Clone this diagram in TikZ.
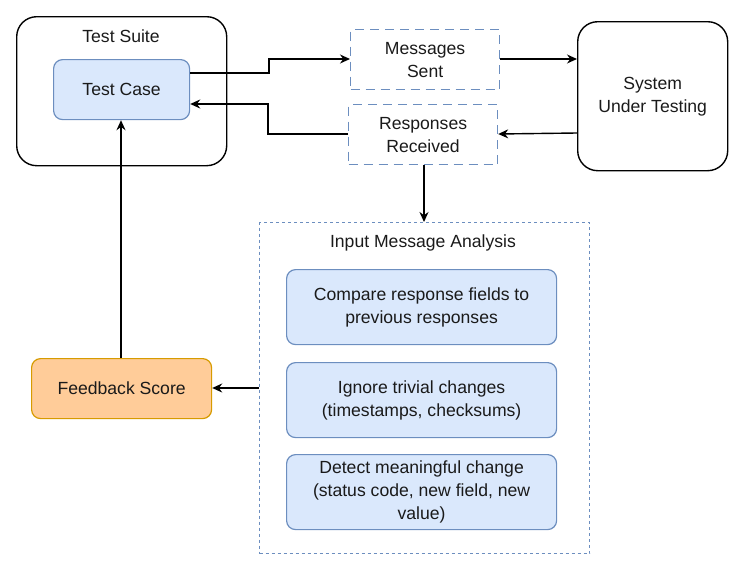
\documentclass[tikz,border=0pt]{standalone}
\usepackage{fontspec}
\setmainfont{Liberation Sans}
\usetikzlibrary{arrows.meta}
\definecolor{bluefill}{HTML}{DAE8FC}
\definecolor{bluedraw}{HTML}{6C8EBF}
\definecolor{orfill}{HTML}{FFCC99}
\definecolor{ordraw}{HTML}{D79B00}
\definecolor{txt}{HTML}{1A1A1A}
\tikzset{
  every node/.style={font=\fontsize{17.6}{23}\selectfont, text=txt, align=center, inner sep=0pt},
  plainbox/.style={draw=black, line width=1.4pt, rounded corners=20pt},
  bluebox/.style={draw=bluedraw, fill=bluefill, line width=1.2pt, rounded corners=9pt},
  msgbox/.style={draw=bluedraw, line width=1.2pt, dash pattern=on 9pt off 6pt},
  analysisbox/.style={draw=bluedraw, line width=1.1pt, dash pattern=on 3pt off 3pt},
  fbbox/.style={draw=ordraw, fill=orfill, line width=1.2pt, rounded corners=9pt},
  conn/.style={draw=black, line width=1.4pt, -{Stealth[length=10pt,width=9pt]}},
}
\begin{document}
\begin{tikzpicture}[x=1pt,y=-1pt]
\useasboundingbox (0,0) rectangle (744,570);
% Test suite
\node[plainbox, minimum width=210pt, minimum height=149pt, anchor=north west] (suite) at (16,16) {};
\node (suitelbl) at (121,36) {Test Suite};
\node[bluebox, minimum width=136pt, minimum height=60pt, anchor=north west] (tc) at (53,59) {Test Case};
% message boxes
\node[msgbox, minimum width=149pt, minimum height=60pt, anchor=north west] (sent) at (350,29) {Messages\\Sent};
\node[msgbox, minimum width=149pt, minimum height=60pt, anchor=north west] (recv) at (348,104) {Responses\\Received};
% SUT
\node[plainbox, minimum width=150pt, minimum height=149pt, anchor=north west] (sut) at (577,21) {System\\Under Testing};
% analysis
\node[analysisbox, minimum width=330pt, minimum height=331pt, anchor=north west] (ana) at (259,222) {};
\node (analbl) at (423,243) {Input Message Analysis};
\node[bluebox, minimum width=270pt, minimum height=75pt, anchor=north west] (b1) at (286,269) {Compare response fields to\\previous responses};
\node[bluebox, minimum width=270pt, minimum height=75pt, anchor=north west] (b2) at (286,362) {Ignore trivial changes\\(timestamps, checksums)};
\node[bluebox, minimum width=270pt, minimum height=75pt, anchor=north west] (b3) at (286,454) {Detect meaningful change\\(status code, new field, new\\value)};
% feedback
\node[fbbox, minimum width=180pt, minimum height=60pt, anchor=north west] (fb) at (31,358) {Feedback Score};
% connectors
\draw[conn] (tc.east |- 0,73) -| (269,59) -- (sent.west |- 0,59);
\draw[conn] (recv.west |- 0,134) -| (268,104) -- (tc.east |- 0,104);
\draw[conn] (sent.east |- 0,59) -- (sut.west |- 0,59);
\draw[conn] (sut.west |- 0,133) -- (recv.east |- 0,134);
\draw[conn] (recv.south -| 424,0) -- (ana.north -| 424,0);
\draw[conn] (ana.west |- 0,388) -- (fb.east |- 0,388);
\draw[conn] (fb.north -| 121,0) -- (tc.south -| 121,0);
\end{tikzpicture}
\end{document}
